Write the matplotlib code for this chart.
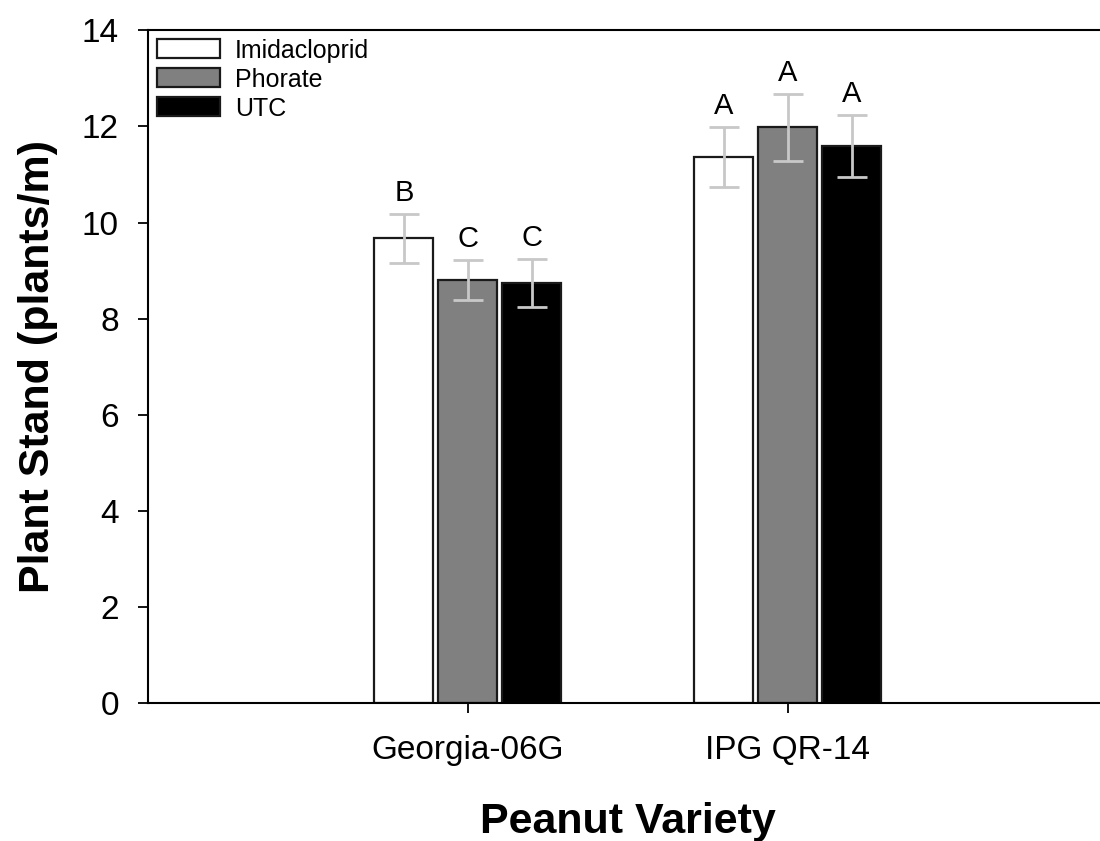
import numpy as np
import matplotlib
matplotlib.use("Agg")
import matplotlib.pyplot as plt

plt.rcParams['font.family'] = ['Liberation Sans', 'DejaVu Sans']

# data
varieties = ['Georgia-06G', 'IPG QR-14']
treatments = ['Imidacloprid', 'Phorate', 'UTC']
colors = ['white', '#808080', 'black']
means = {
    'Imidacloprid': [9.67, 11.36],
    'Phorate': [8.80, 11.98],
    'UTC': [8.74, 11.59],
}
errs = {
    'Imidacloprid': [0.51, 0.62],
    'Phorate': [0.42, 0.69],
    'UTC': [0.50, 0.65],
}
letters = {
    'Imidacloprid': ['B', 'A'],
    'Phorate': ['C', 'A'],
    'UTC': ['C', 'A'],
}

fig = plt.figure(figsize=(11, 8.41), dpi=100)
ax = fig.add_axes([0.1345, 0.164, 0.8725, 0.800])

x = np.arange(1, len(varieties) + 1)
width = 0.184
step = 0.2

for i, t in enumerate(treatments):
    pos = x + (i - 1) * step
    ax.bar(pos, means[t], width, color=colors[i], edgecolor='#1a1a1a',
           linewidth=1.6, label=t, zorder=2)
    ax.errorbar(pos, means[t], yerr=errs[t], fmt='none', ecolor='#c8c8c8',
                elinewidth=2, capsize=11, capthick=2, zorder=3)
    for p, m, e, l in zip(pos, means[t], errs[t], letters[t]):
        ax.text(p, m + e + 0.15, l, ha='center', va='bottom', fontsize=21)

ax.set_xlim(0, 3)
ax.set_ylim(0, 14)
ax.set_yticks(np.arange(0, 15, 2))
ax.set_xticks(x)
ax.set_xticklabels(varieties)
ax.tick_params(axis='both', direction='out', length=7, width=1.3, labelsize=24)
ax.tick_params(axis='x', pad=16)
ax.tick_params(axis='y', pad=14)
ax.spines['right'].set_visible(False)
for s in ['left', 'bottom', 'top']:
    ax.spines[s].set_linewidth(1.5)

ax.set_ylabel('Plant Stand (plants/m)', fontsize=31, fontweight='bold', labelpad=17)
ax.set_xlabel('Peanut Variety', fontsize=31, fontweight='bold', labelpad=26)

ax.legend(loc='upper left', bbox_to_anchor=(-0.006, 1.01), frameon=False,
          fontsize=18, handlelength=2.5, handleheight=0.8, labelspacing=0.2,
          handletextpad=0.6, borderaxespad=0.2)

fig.savefig('out.png', dpi=100)
